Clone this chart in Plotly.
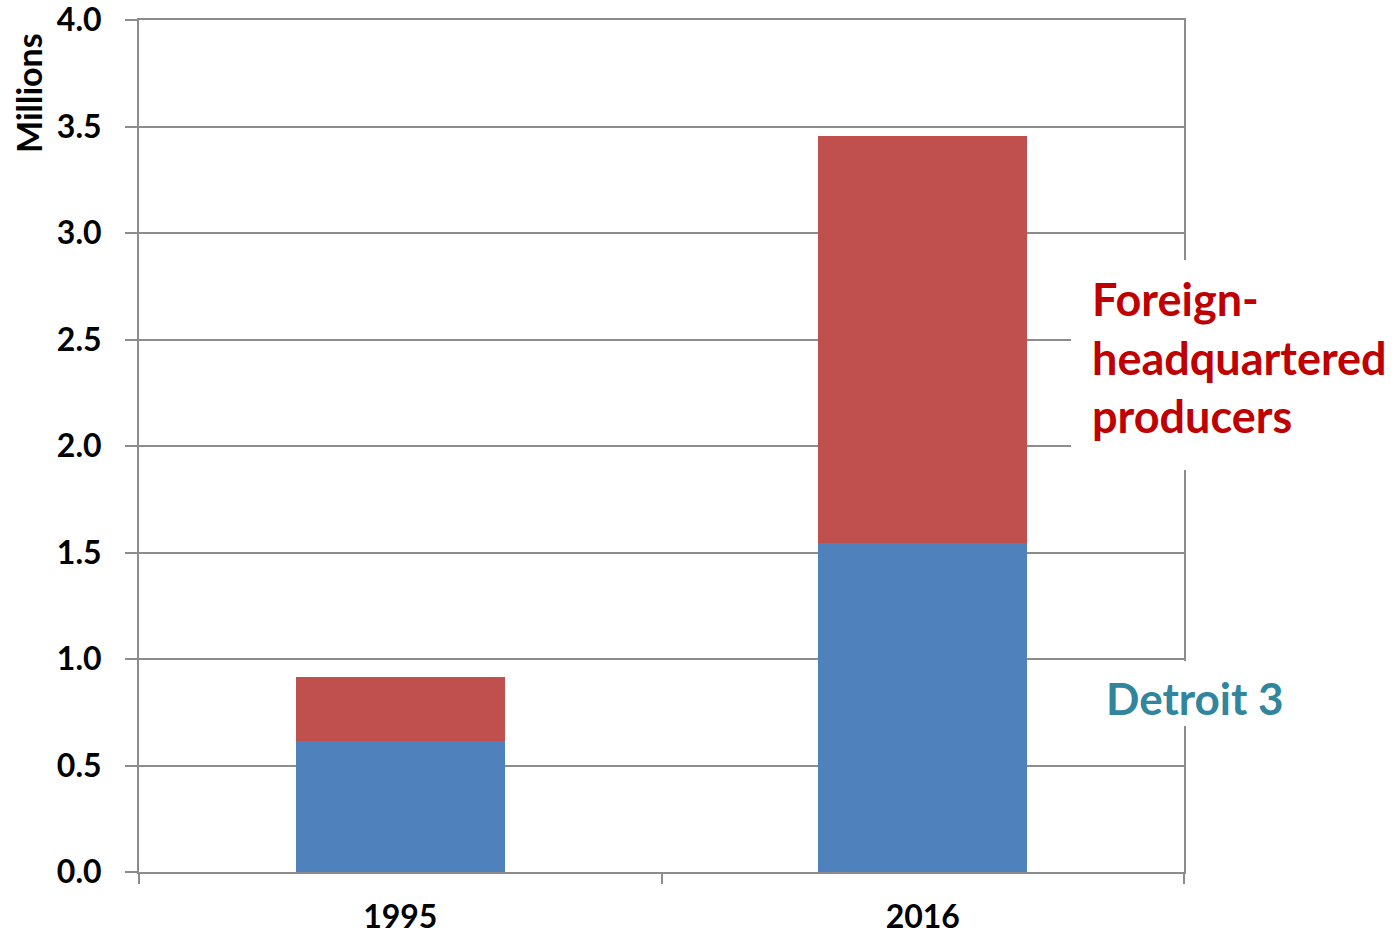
import plotly.graph_objects as go

years = ["1995", "2016"]
detroit3 = [0.615, 1.545]
foreign = [0.300, 1.910]
y_ticks = [0.0, 0.5, 1.0, 1.5, 2.0, 2.5, 3.0, 3.5, 4.0]
y_labels = ["0.0", "0.5", "1.0", "1.5", "2.0", "2.5", "3.0", "3.5", "4.0"]

FONT = "Lato, Carlito, Calibri, 'Open Sans', sans-serif"
GRID = "#8c8c8c"

PL, PR, PT, PB = 139, 1184, 20, 872   # plot area in screen pixels
PW, PH = PR - PL, PB - PT


def px(sx):
    return (sx - PL) / PW


def py(sy):
    return (PB - sy) / PH


fig = go.Figure()
fig.add_trace(go.Bar(x=years, y=detroit3, name="Detroit 3",
                     marker=dict(color="#4F81BD", line=dict(width=0))))
fig.add_trace(go.Bar(x=years, y=foreign, name="Foreign-headquartered producers",
                     marker=dict(color="#C0504D", line=dict(width=0))))

W, H = 1396, 934
fig.update_layout(
    width=W, height=H,
    barmode="stack", bargap=0.6,
    showlegend=False,
    plot_bgcolor="white", paper_bgcolor="white",
    margin=dict(l=PL, r=W - PR, t=PT, b=H - PB, pad=0, autoexpand=False),
    font=dict(family=FONT, size=32, color="black"),
    xaxis=dict(type="category", showgrid=False, showline=True, linecolor=GRID, linewidth=2,
               mirror=True, automargin=False,
               ticks="outside", tickson="boundaries", ticklen=10, tickcolor=GRID, tickwidth=2,
               tickfont=dict(family=FONT, size=32, color="black", weight="bold"),
               ticklabelstandoff=16),
    yaxis=dict(range=[0, 4.0005], tickvals=y_ticks, ticktext=y_labels, automargin=False,
               showgrid=True, gridcolor=GRID, gridwidth=1.5,
               showline=True, linecolor=GRID, linewidth=2, mirror=True,
               ticks="outside", ticklen=12, tickcolor=GRID, tickwidth=2,
               ticklabeloverflow="allow",
               tickfont=dict(family=FONT, size=32, color="black", weight="bold"),
               ticklabelstandoff=17, zeroline=False),
)

# white label backgrounds that interrupt the grid and the right frame
fig.add_shape(type="rect", xref="paper", yref="paper", layer="above",
              x0=px(1071), x1=px(1400), y0=py(470), y1=py(260),
              fillcolor="white", line=dict(width=0))
fig.add_shape(type="rect", xref="paper", yref="paper", layer="above",
              x0=px(1100), x1=px(1300), y0=py(726), y1=py(661),
              fillcolor="white", line=dict(width=0))

fig.add_annotation(text="<b>Millions</b>", xref="paper", yref="paper",
                   x=px(29), y=py(93), textangle=-90,
                   showarrow=False, font=dict(family=FONT, size=34, color="black"),
                   xanchor="center", yanchor="middle")

fig.add_annotation(text="<b>Foreign-<br>headquartered<br>producers</b>",
                   xref="paper", yref="paper", x=px(1090), y=py(358),
                   xanchor="left", yanchor="middle", align="left", showarrow=False,
                   font=dict(family=FONT, size=45, color="#C00000"))

fig.add_annotation(text="<b>Detroit 3</b>",
                   xref="paper", yref="paper", x=px(1195), y=py(698),
                   xanchor="center", yanchor="middle", align="center", showarrow=False,
                   font=dict(family=FONT, size=44, color="#31859C"))

fig.write_html("out.html", config={"displayModeBar": False},
               post_script="document.body.style.margin='0';document.body.style.overflow='hidden';")
